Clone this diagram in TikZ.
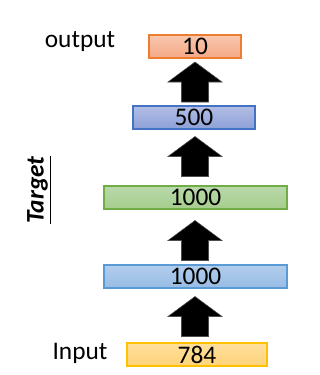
\documentclass[tikz,border=0pt]{standalone}
\usepackage{fontspec}
\setmainfont{Carlito}
\begin{document}
\begin{tikzpicture}[x=0.75pt,y=-0.75pt,
  layer/.style={draw, line width=0.9pt, minimum height=23*0.75pt, inner sep=0pt,
    font=\fontsize{19}{22}\selectfont, text=black},
  lbl/.style={font=\fontsize{19}{22}\selectfont, inner sep=0pt},
  uparrow/.pic={\fill[black, draw=black!70, line width=0.4pt] (-13.5,20) -- (-13.5,0) -- (-27,0) -- (0,-20) -- (27,0) -- (13.5,0) -- (13.5,20) -- cycle;}]
\useasboundingbox (0,0) rectangle (319,375);
\definecolor{orTop}{HTML}{F8C7AE}\definecolor{orBot}{HTML}{F4A885}\definecolor{orLine}{HTML}{ED7D31}
\definecolor{bdTop}{HTML}{B3BEE4}\definecolor{bdBot}{HTML}{8CA0D8}\definecolor{bdLine}{HTML}{4472C4}
\definecolor{grTop}{HTML}{B9D9AB}\definecolor{grBot}{HTML}{A5CD8C}\definecolor{grLine}{HTML}{70AD47}
\definecolor{blTop}{HTML}{B3CDEC}\definecolor{blBot}{HTML}{97BCE5}\definecolor{blLine}{HTML}{5B9BD5}
\definecolor{yeTop}{HTML}{FFDF9C}\definecolor{yeBot}{HTML}{FFD47A}\definecolor{yeLine}{HTML}{FFC000}
\node[layer, draw=orLine, top color=orTop, bottom color=orBot, minimum width=92*0.75pt] (out) at (195,46.5) {10};
\node[layer, draw=bdLine, top color=bdTop, bottom color=bdBot, minimum width=122*0.75pt] (h3) at (194,117.5) {500};
\node[layer, draw=grLine, top color=grTop, bottom color=grBot, minimum width=183*0.75pt] (h2) at (195.5,197.5) {1000};
\node[layer, draw=blLine, top color=blTop, bottom color=blBot, minimum width=183*0.75pt] (h1) at (195.5,276.5) {1000};
\node[layer, draw=yeLine, top color=yeTop, bottom color=yeBot, minimum width=140*0.75pt] (in) at (197,354.5) {784};
\pic at (195,82) {uparrow};
\pic at (195,156.5) {uparrow};
\pic at (195,240.5) {uparrow};
\pic at (195,316.5) {uparrow};
\node[lbl] (outlbl) at (80,41.5) {output};
\node[lbl] (inlbl) at (80,353) {Input};
\node[lbl, rotate=90] (tgt) at (39,190) {\underline{\textbf{\textit{Target}}}};
\end{tikzpicture}
\end{document}
